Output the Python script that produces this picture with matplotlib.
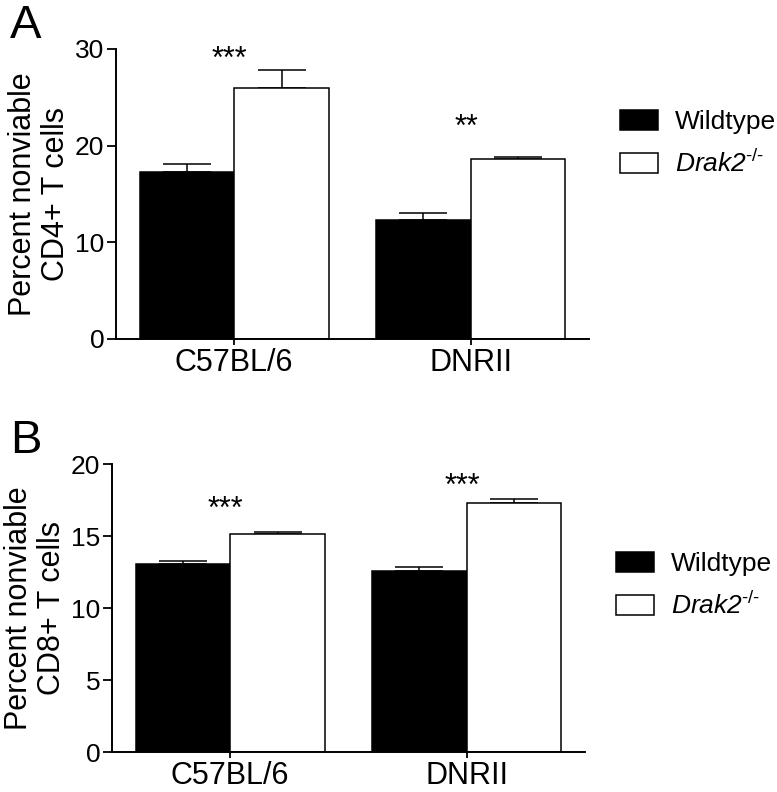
import matplotlib
matplotlib.use("Agg")
import matplotlib.pyplot as plt
from matplotlib.patches import Patch
import numpy as np

plt.rcParams['font.family'] = ['Liberation Sans', 'DejaVu Sans']
plt.rcParams['mathtext.fontset'] = 'custom'
plt.rcParams['mathtext.rm'] = 'Liberation Sans'
plt.rcParams['mathtext.it'] = 'Liberation Sans:italic'

categories = ["C57BL/6", "DNRII"]
series_names = ["Wildtype", "Drak2"]

cd4_wt = [17.24, 12.35]
cd4_wt_err = [0.90, 0.65]
cd4_ko = [26.0, 18.6]
cd4_ko_err = [1.85, 0.22]
cd4_sig = ["***", "**"]

cd8_wt = [13.05, 12.58]
cd8_wt_err = [0.23, 0.28]
cd8_ko = [15.15, 17.30]
cd8_ko_err = [0.16, 0.30]
cd8_sig = ["***", "***"]

W, H = 777, 792
fig = plt.figure(figsize=(W / 100, H / 100), dpi=100)

def px_axes(left, right, top, bottom):
    return fig.add_axes([left / W, 1 - bottom / H, (right - left) / W, (bottom - top) / H])

ko_label = series_names[1] + r'$^{‐/‐}$'

def draw_panel(ax, wt, wt_err, ko, ko_err, sig, ymax, yticks, ylabel, sig_y, legend_anchor):
    x = np.arange(len(categories))
    bw = 0.4
    ax.bar(x - bw / 2, wt, bw, color='black', edgecolor='black', linewidth=1.1, zorder=2)
    ax.bar(x + bw / 2, ko, bw, color='white', edgecolor='black', linewidth=1.1, zorder=2)
    ax.errorbar(x - bw / 2, wt, yerr=[np.zeros(len(wt)), wt_err], fmt='none',
                ecolor='black', elinewidth=1.1, capsize=17.5, capthick=1.1, zorder=1)
    ax.errorbar(x + bw / 2, ko, yerr=[np.zeros(len(ko)), ko_err], fmt='none',
                ecolor='black', elinewidth=1.1, capsize=17.5, capthick=1.1, zorder=1)
    ax.set_xlim(-0.5, 1.5)
    ax.set_ylim(0, ymax)
    ax.set_yticks(yticks)
    ax.set_xticks(x)
    ax.set_xticklabels(categories, fontsize=22)
    ax.tick_params(axis='y', labelsize=19, length=6.5, width=1.3, pad=2)
    ax.tick_params(axis='x', length=4.5, width=1.3, pad=2)
    for s in ['top', 'right']:
        ax.spines[s].set_visible(False)
    for s in ['left', 'bottom']:
        ax.spines[s].set_linewidth(1.4)
    ax.set_ylabel(ylabel, fontsize=22, linespacing=1.1, labelpad=3)
    for i, (s, yy) in enumerate(zip(sig, sig_y)):
        ax.text(x[i] - 0.02, yy, s, ha='center', va='baseline', fontsize=22)
    handles = [Patch(facecolor='black', edgecolor='black', linewidth=1.1),
               Patch(facecolor='white', edgecolor='black', linewidth=1.1)]
    leg = fig.legend(handles, [series_names[0], ko_label], loc='upper left',
                     bbox_to_anchor=(legend_anchor[0] / W, 1 - legend_anchor[1] / H),
                     frameon=False, fontsize=19, handlelength=1.45, handleheight=0.8,
                     handletextpad=0.62, labelspacing=0.6, borderpad=0, borderaxespad=0)
    leg.get_texts()[1].set_fontstyle('italic')

axA = px_axes(116, 589, 49, 339)
draw_panel(axA, cd4_wt, cd4_wt_err, cd4_ko, cd4_ko_err, cd4_sig, 30, [0, 10, 20, 30],
           "Percent nonviable\nCD4+ T cells", [28.0, 21.0], (620, 110))

axB = px_axes(112, 585, 464, 752)
draw_panel(axB, cd8_wt, cd8_wt_err, cd8_ko, cd8_ko_err, cd8_sig, 20, [0, 5, 10, 15, 20],
           "Percent nonviable\nCD8+ T cells", [16.25, 17.85], (616, 552))

fig.text(10 / W, 1 - 38 / H, "A", fontsize=34, va='baseline', ha='left')
fig.text(10 / W, 1 - 453 / H, "B", fontsize=34, va='baseline', ha='left')

fig.savefig("out.png", dpi=100)
